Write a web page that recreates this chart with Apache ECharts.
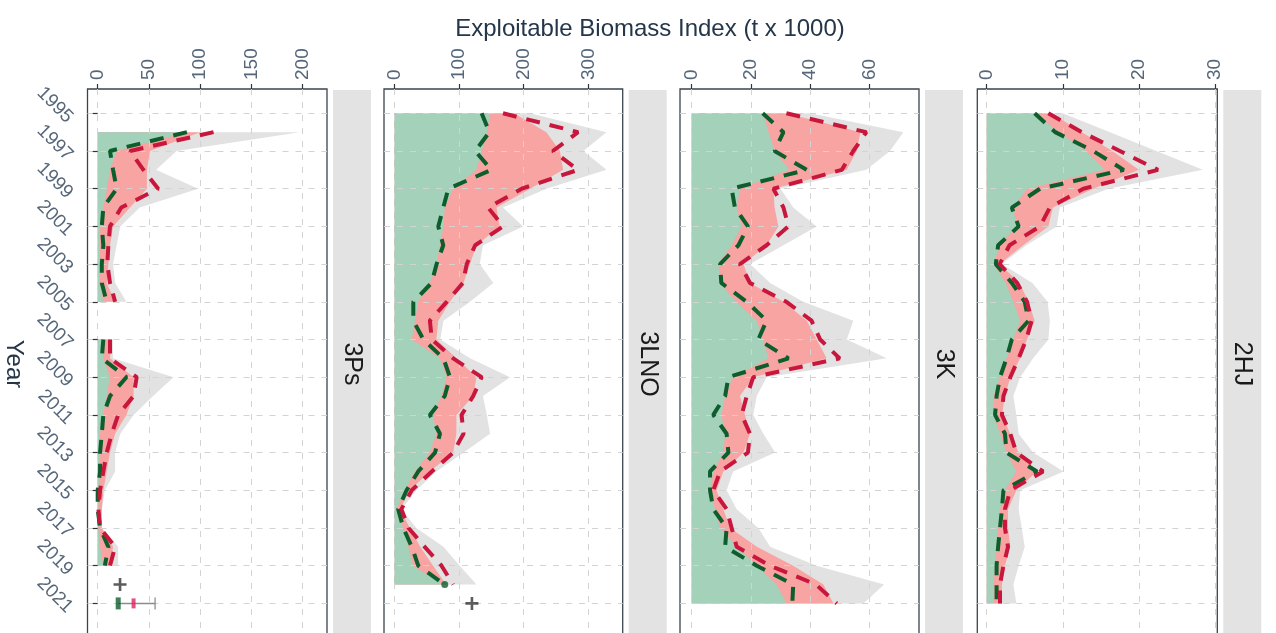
<!DOCTYPE html>
<html><head><meta charset="utf-8">
<script src="https://cdn.jsdelivr.net/npm/echarts@6/dist/echarts.min.js"></script>
<style>html,body{margin:0;padding:0;background:#fff}#c{width:1276px;height:633px}</style>
</head><body><div id="c"></div>
<script>
// ---------- tick labels ----------
const yearTicks = [1995,1997,1999,2001,2003,2005,2007,2009,2011,2013,2015,2017,2019,2021];
const ticks3Ps  = [0,50,100,150,200];
const ticks3LNO = [0,100,200,300];
const ticks3K   = [0,20,40,60];
const ticks2HJ  = [0,10,20,30];
const panelNames = ['3Ps','3LNO','3K','2HJ'];

// ---------- 3Ps (1996-2019, gap 2006) ----------
const years3Ps = [1996,1997,1998,1999,2000,2001,2002,2003,2004,2005,2006,2007,2008,2009,2010,2011,2012,2013,2014,2015,2016,2017,2018,2019];
const green3Ps   = [87,18.5,12,9,5.5,2.3,2.3,2.3,2.3,5.5,null,4,5.5,12,8.8,5.5,2.3,2.3,2.3,0.7,0.7,0.7,2.3,5.5];
const pink3Ps    = [100,51,48,48,31.5,15,12,10.4,8.8,17,null,13.7,12,35,35,28,17,12,8.8,5.5,4,4,15,12];
const grey3Ps    = [197,77,57,98,41,22,18.5,15,17,28,null,15,15,74,54,35,22,17,17,7,4,4,20,20];
const red3Ps     = [113,31.5,44.6,59,23,12,10.4,9.4,12,17,null,12,12,38,35,20,13.7,8.8,5.5,2.3,0.7,2.3,17,12];
const gline3Ps   = [87,12,15,18.5,5.5,4,5.5,4,4,8.8,null,5.5,4,28,12,5.5,4,2.3,2.3,0,0,2.3,10.4,7];
const plus3Ps    = [21.8, 2020];
const est3Ps     = [20, 35, 56];   // green point, red point, upper bar end
const estYear3Ps = 2021;

// ---------- 3LNO (1995-2020) ----------
const years3LNO = [1995,1996,1997,1998,1999,2000,2001,2002,2003,2004,2005,2006,2007,2008,2009,2010,2011,2012,2013,2014,2015,2016,2017,2018,2019,2020];
const green3LNO = [148,143,135,127,91,78,76,70.6,65.4,55,37,32,27,70.6,81,73,60,65,55,32,16.5,3.6,14,21.6,29,75];
const pink3LNO  = [185,235,256,261,210,158,163,127,117,107,86,68,65,96,127,122,96,96,91,55,24,9,24,40,60,80];
const grey3LNO  = [210,328,292,328,235,168,199,137,132,153,117,76,71,117,179,137,143,148,107,65,34,11,34,76,101,127];
const red3LNO   = [168,284,245,284,197,145,168,125,112,106,81,55,58,91,135,122,104,107,91,58,27,11,22,47,73,91];
const gline3LNO = [135,147,125,150,83.5,75.7,68,75.7,65.4,57.7,29.4,29.4,45,76,86,78,55,70.6,63,37,19,6,14,27,37,78];
const plus3LNO  = [120, 2021];

// ---------- 3K (1995-2021) ----------
const years3K = [1995,1996,1997,1998,1999,2000,2001,2002,2003,2004,2005,2006,2007,2008,2009,2010,2011,2012,2013,2014,2015,2016,2017,2018,2019,2020,2021];
const green3K = [24,26,28,33,16.3,15.2,16.9,13.5,9,9.6,15,22,24,26,14,11.3,10.1,11.3,10.7,7.3,6.2,7.9,9.6,15.2,22,28.7,32];
const pink3K  = [32,57,55.7,52.4,27.6,28,29.3,25.3,17.5,19.7,31,38.9,42.2,45.6,20.8,16.3,18,19.7,17.5,10.7,8.4,10.7,13,22,34.3,44.5,47.9];
const grey3K  = [40,71.5,67,59,30,34.3,42.2,31,19.7,26.5,37.7,54.6,52.4,65.9,25.3,22,20.8,24.2,28.2,14,11.8,15.2,22.5,26.5,42.2,65,58];
const red3K   = [32,59,54.6,50.7,27.6,31,32.7,25.3,16.3,19.7,32,40.5,43.4,50,20.8,18.6,16.9,19.7,19,9.6,7.3,11.8,13.5,15.2,26.5,42,49];
const gline3K = [24,31,28,38.9,13.5,14.6,19,15.8,9.6,10,18.6,25.3,22.5,32.7,12.4,11.3,7.3,11.8,12.4,6.2,6.2,7.3,11.8,11.3,22,34.3,34];

// ---------- 2HJ (1995-2021) ----------
const years2HJ = [1995,1996,1997,1998,1999,2000,2001,2002,2003,2004,2005,2006,2007,2008,2009,2010,2011,2012,2013,2014,2015,2016,2017,2018,2019,2020,2021];
const green2HJ = [6.3,9.5,13,15.5,5.3,3.5,3.9,1.75,0.9,2.5,3.5,4.4,3.5,2.6,1.75,0.9,0.9,1.75,2.6,3.9,2.4,1.75,1.5,1.3,1.1,0.9,0.9];
const pink2HJ  = [8.5,12.5,16.5,20,14,8.7,8.1,4.8,1.7,4.3,5.5,6.3,5.3,4.4,3.1,2.4,2.0,3.1,4.2,6.6,3.9,2.8,2.8,3.1,2.4,2.0,2.0];
const grey2HJ  = [10,16.2,22.3,28.4,16,9.6,9.2,5.2,2.0,6.0,8.0,8.3,8.1,6.1,4.4,3.5,3.9,4.2,6.1,10.1,4.4,4.2,4.6,5.0,4.2,3.5,3.9];
const red2HJ   = [8.1,12.5,17.5,22.5,12.7,8.3,7.0,3.0,1.7,4.0,5.3,5.9,5.2,4.2,3.1,2.2,2.0,3.1,3.9,7.4,3.1,2.4,2.4,2.8,2.2,1.75,1.75];
const gline2HJ = [6.3,9.0,14,18,7.0,3.3,4.2,1.5,1.2,3.3,5.0,5.5,3.3,2.6,1.75,1.3,1.1,2.4,2.6,6.6,2.2,2.0,1.75,1.5,1.3,1.3,1.3];

// ---------- styling / layout ----------
const FONT = '"Liberation Sans", Arial, sans-serif';
const C_GREENFILL = '#a3d1ba', C_PINK = '#f8a4a2', C_GREY = '#e2e2e2';
const C_RED = '#c8163c', C_GREEN = '#0d5e2c';
const LABEL_C = '#56677a', TITLE_C = '#24364a';
const TOP = 89, H = 555;
const YMIN = 1993.711, YMAX = 2023.154;

const layout = [
  {left: 87.5,  width: 239.5, min: -9.95, max: 223.7, ticks: ticks3Ps},
  {left: 384,   width: 238.7, min: -15.9, max: 353,   ticks: ticks3LNO},
  {left: 680,   width: 239,   min: -3.95, max: 76.8,  ticks: ticks3K},
  {left: 977.3, width: 240,   min: -1.235,max: 30.3,  ticks: ticks2HJ}
];
const panelData = [
  {years: years3Ps,  g: green3Ps,  p: pink3Ps,  q: grey3Ps,  r: red3Ps,  gl: gline3Ps},
  {years: years3LNO, g: green3LNO, p: pink3LNO, q: grey3LNO, r: red3LNO, gl: gline3LNO},
  {years: years3K,   g: green3K,   p: pink3K,   q: grey3K,   r: red3K,   gl: gline3K},
  {years: years2HJ,  g: green2HJ,  p: pink2HJ,  q: grey2HJ,  r: red2HJ,  gl: gline2HJ}
];

function band(gi, years, hi, color) {
  return {
    type: 'custom', xAxisIndex: gi, yAxisIndex: gi, z: 1, clip: true, silent: true,
    data: [[0, years[0]]],
    renderItem: function (params, api) {
      const children = [];
      let seg = [];
      function flush() {
        if (seg.length > 1) {
          const pts = [];
          seg.forEach(function (i) { pts.push(api.coord([hi[i], years[i]])); });
          for (let k = seg.length - 1; k >= 0; k--) pts.push(api.coord([0, years[seg[k]]]));
          children.push({type: 'polygon', shape: {points: pts}, style: {fill: color}});
        }
        seg = [];
      }
      for (let i = 0; i < years.length; i++) { if (hi[i] == null) flush(); else seg.push(i); }
      flush();
      return {type: 'group', children: children};
    }
  };
}
function dline(gi, years, vals, color) {
  return {
    type: 'line', xAxisIndex: gi, yAxisIndex: gi, z: 5, symbol: 'none', silent: true,
    data: years.map(function (y, i) { return [vals[i] == null ? '-' : vals[i], y]; }),
    lineStyle: {color: color, width: 4, type: [14, 10], cap: 'butt'}
  };
}
const PLUS = 'path://M4,0H6V4H10V6H6V10H4V6H0V4H4Z';

const grids = [], xAxes = [], yAxes = [], series = [], graphics = [];
layout.forEach(function (L, i) {
  grids.push({left: L.left, top: TOP, width: L.width, height: H, show: true,
    borderColor: '#3a444e', borderWidth: 1.3, backgroundColor: 'transparent',
    containLabel: false, outerBoundsMode: 'none'});
  xAxes.push({gridIndex: i, type: 'value', position: 'top', min: L.min, max: L.max, z: 2,
    axisLine: {show: false},
    axisTick: {show: true, customValues: L.ticks, length: 5, lineStyle: {color: '#333', width: 1.2}},
    axisLabel: {customValues: L.ticks, rotate: -90, margin: 9, fontSize: 19, color: LABEL_C, fontFamily: FONT},
    splitLine: {show: true, lineStyle: {color: '#d3d3d3', type: [6, 7], width: 1}}
  });
  yAxes.push({gridIndex: i, type: 'value', inverse: true, min: YMIN, max: YMAX, z: 2,
    axisLine: {show: false},
    axisTick: {show: i === 0, customValues: yearTicks, length: 5, lineStyle: {color: '#333', width: 1.2}},
    axisLabel: {show: i === 0, customValues: yearTicks, rotate: -45, margin: 11, fontSize: 19,
      align: 'right', verticalAlign: 'top',
      color: LABEL_C, fontFamily: FONT, formatter: function (v) { return String(v); }},
    splitLine: {show: true, lineStyle: {color: '#d3d3d3', type: [6, 7], width: 1}}
  });
  const d = panelData[i];
  series.push(band(i, d.years, d.q, C_GREY));
  series.push(band(i, d.years, d.p, C_PINK));
  series.push(band(i, d.years, d.g, C_GREENFILL));
  series.push(dline(i, d.years, d.gl, C_GREEN));
  series.push(dline(i, d.years, d.r, C_RED));

  const sx = L.left + L.width + 6;
  graphics.push({type: 'rect', shape: {x: sx, y: 90, width: 38, height: 560}, style: {fill: '#e3e3e3'}, silent: true, z: 0});
  graphics.push({type: 'text', x: sx + 19, y: 364, rotation: -Math.PI / 2, silent: true, z: 1,
    style: {text: panelNames[i], fill: '#1a1a1a', font: '25px ' + FONT,
      align: 'center', verticalAlign: 'middle', textAlign: 'center', textVerticalAlign: 'middle'}});
});

// extra marks: 3Ps
series.push({type: 'scatter', xAxisIndex: 0, yAxisIndex: 0, z: 6, silent: true,
  symbol: PLUS, symbolSize: 13, itemStyle: {color: '#333'}, data: [plus3Ps]});
series.push({type: 'line', xAxisIndex: 0, yAxisIndex: 0, z: 6, silent: true, symbol: 'none',
  lineStyle: {color: '#8c8c8c', width: 1.5}, data: [[est3Ps[0], estYear3Ps], [est3Ps[2], estYear3Ps]]});
series.push({type: 'scatter', xAxisIndex: 0, yAxisIndex: 0, z: 7, silent: true,
  symbol: 'rect', symbolSize: [1.6, 12], itemStyle: {color: '#8c8c8c'}, data: [[est3Ps[2], estYear3Ps]]});
series.push({type: 'scatter', xAxisIndex: 0, yAxisIndex: 0, z: 7, silent: true,
  symbol: 'rect', symbolSize: [5, 12], itemStyle: {color: C_GREEN}, data: [[est3Ps[0], estYear3Ps]]});
series.push({type: 'scatter', xAxisIndex: 0, yAxisIndex: 0, z: 7, silent: true,
  symbol: 'rect', symbolSize: [4, 10], itemStyle: {color: '#e0245e'}, data: [[est3Ps[1], estYear3Ps]]});
// 3LNO
series.push({type: 'scatter', xAxisIndex: 1, yAxisIndex: 1, z: 6, silent: true,
  symbol: PLUS, symbolSize: 13, itemStyle: {color: '#333'}, data: [plus3LNO]});
series.push({type: 'scatter', xAxisIndex: 1, yAxisIndex: 1, z: 6, silent: true,
  symbol: 'circle', symbolSize: 7, itemStyle: {color: C_GREEN},
  data: [[gline3LNO[gline3LNO.length - 1], years3LNO[years3LNO.length - 1]]]});

graphics.push({type: 'text', x: 650, y: 29, silent: true,
  style: {text: 'Exploitable Biomass Index (t x 1000)', fill: TITLE_C, font: '500 24px ' + FONT,
    align: 'center', verticalAlign: 'middle', textAlign: 'center', textVerticalAlign: 'middle'}});
graphics.push({type: 'text', x: 14, y: 364, rotation: -Math.PI / 2, silent: true,
  style: {text: 'Year', fill: TITLE_C, font: '24px ' + FONT,
    align: 'center', verticalAlign: 'middle', textAlign: 'center', textVerticalAlign: 'middle'}});

const chart = echarts.init(document.getElementById('c'), null, {renderer: 'canvas'});
chart.setOption({
  animation: false,
  backgroundColor: '#ffffff',
  grid: grids, xAxis: xAxes, yAxis: yAxes, series: series, graphic: graphics
});
</script></body></html>
